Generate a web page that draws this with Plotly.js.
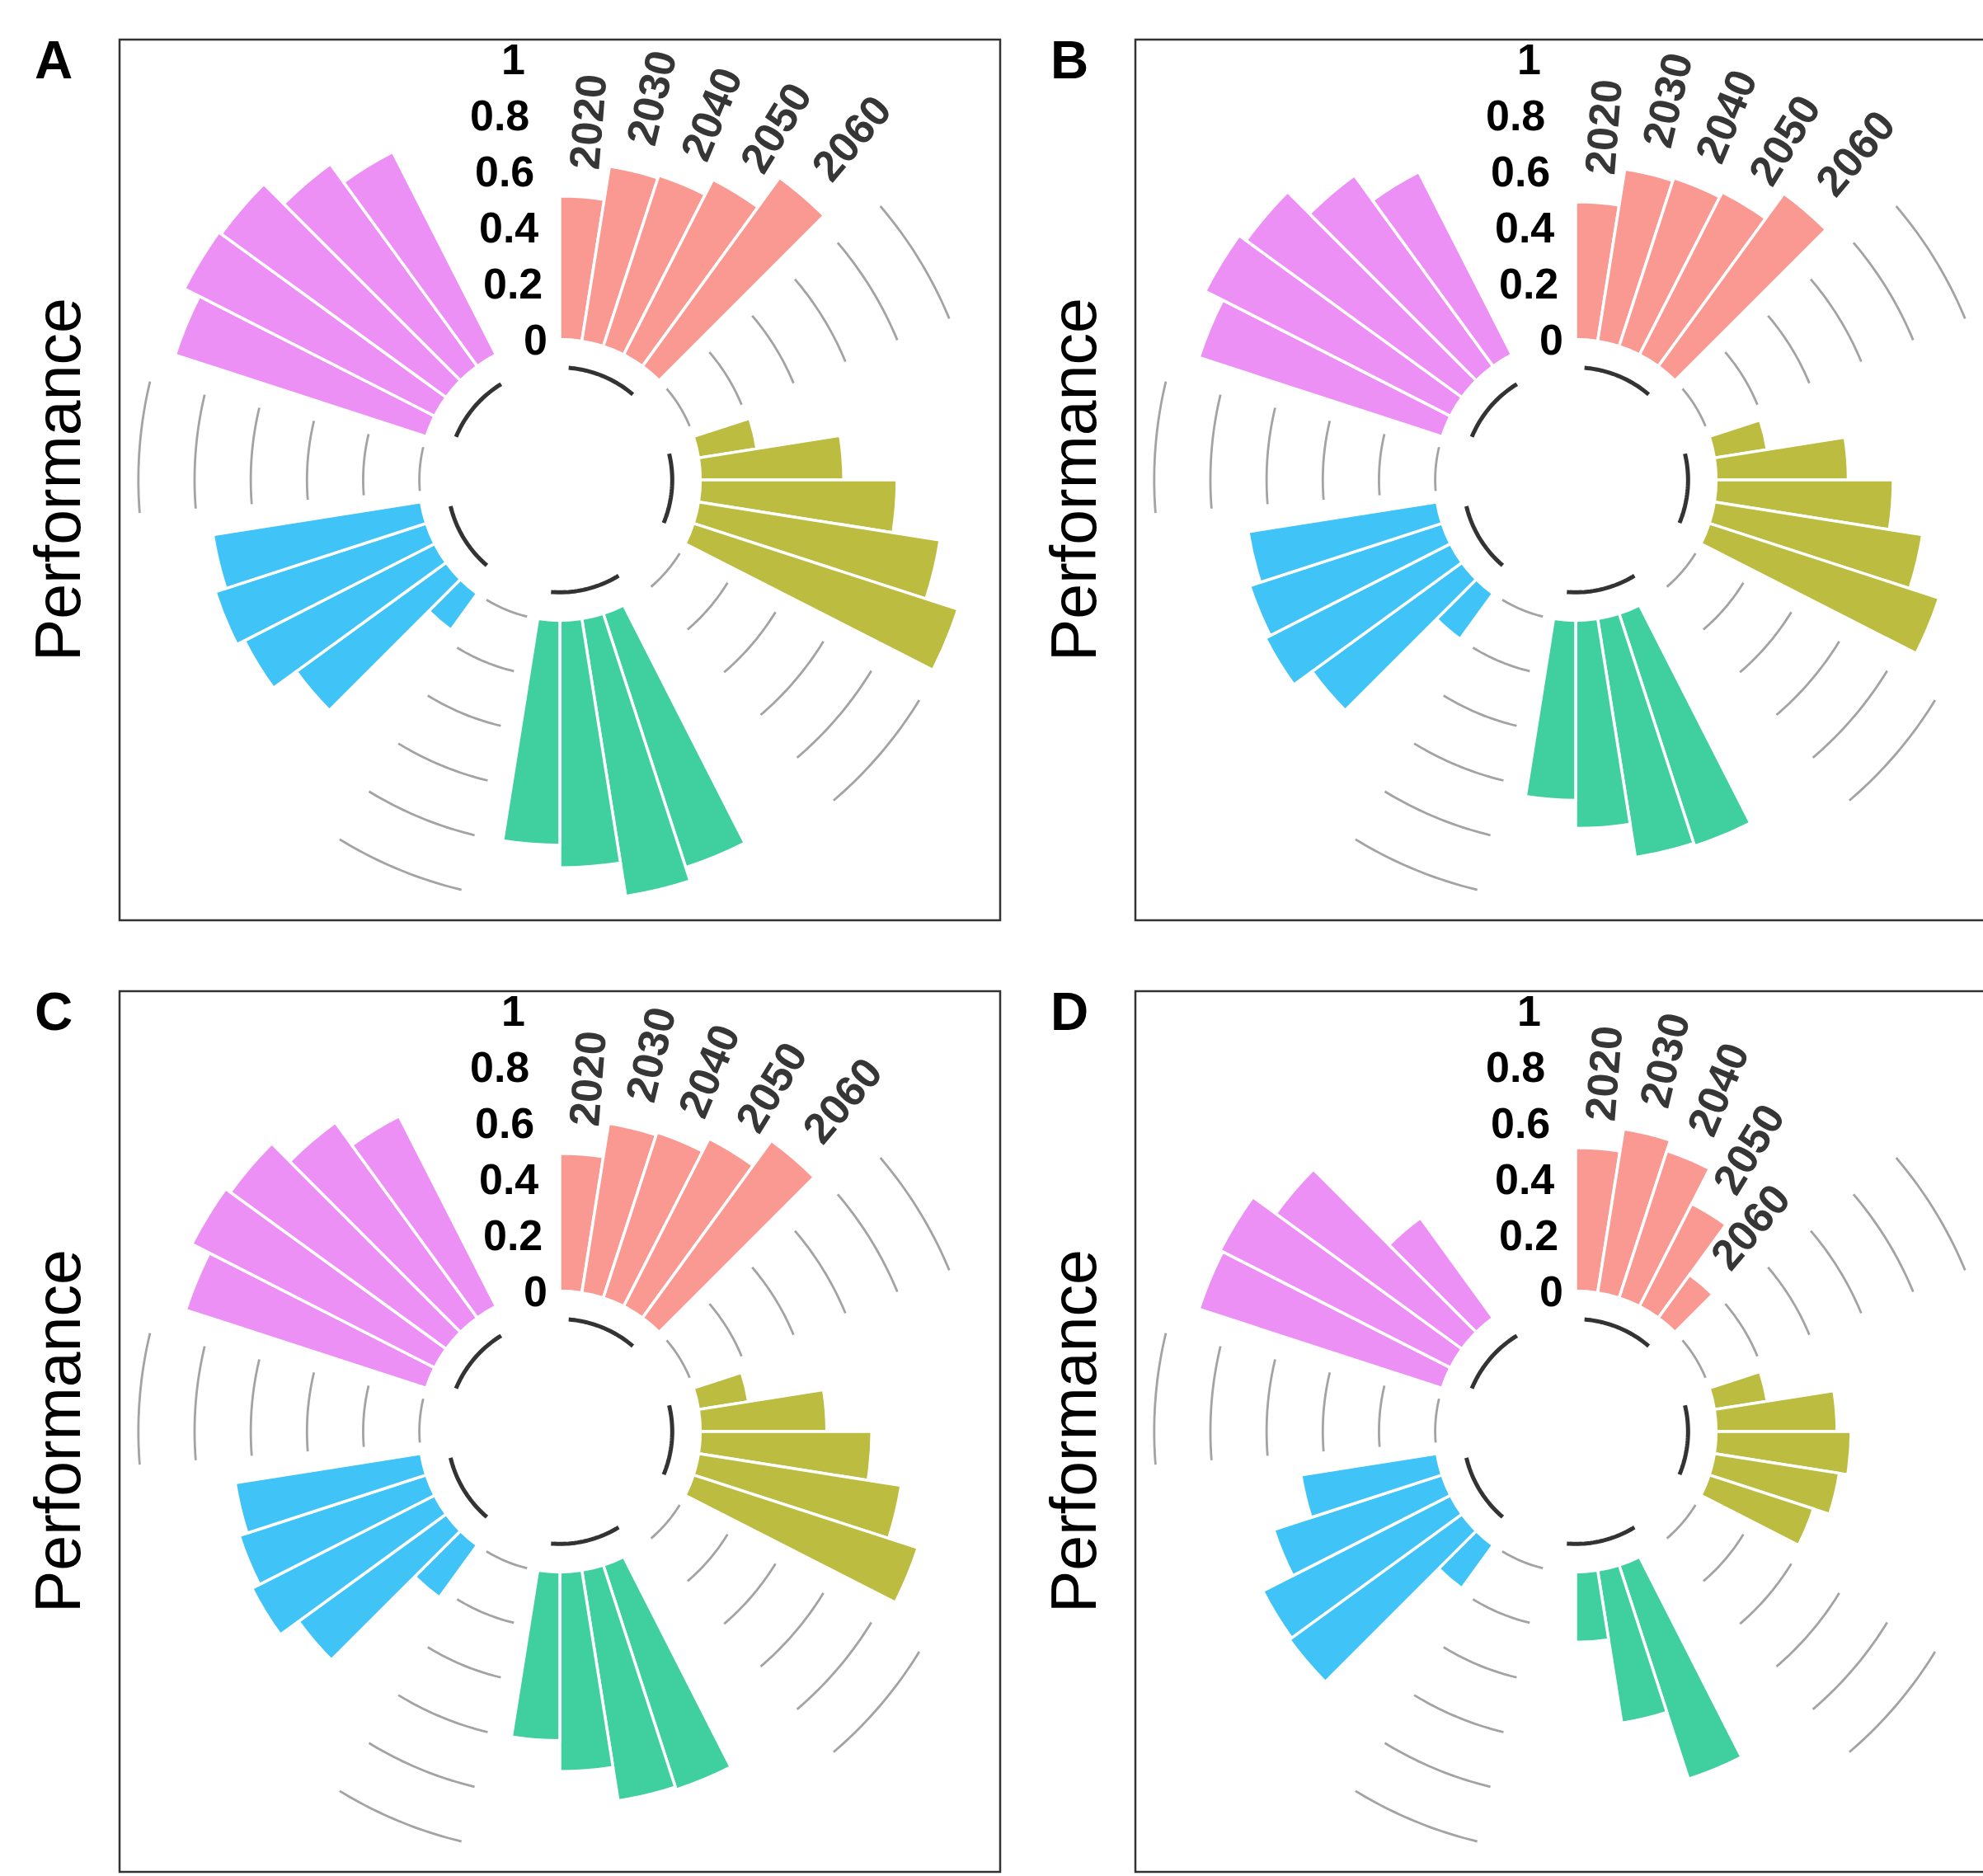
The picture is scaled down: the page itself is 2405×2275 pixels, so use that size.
<!DOCTYPE html>
<html>
<head>
<meta charset="utf-8">
<script src="https://cdn.plot.ly/plotly-3.0.1.min.js"></script>
<style>
html,body{margin:0;padding:0;overflow:hidden;background:#ffffff;}
#chart{width:2460px;height:2275px;}
</style>
</head>
<body>
<div id="chart"></div>
<script>
// ---------------- data ----------------
const years = ['2020', '2030', '2040', '2050', '2060'];
const groupColors = ['#FA9892', '#BBBC40', '#40CF9E', '#40C4F8', '#ED90F6'];
const tickValues = [0, 0.2, 0.4, 0.6, 0.8, 1];
const tickLabels = ['0', '0.2', '0.4', '0.6', '0.8', '1'];
const panelLetters = ['A', 'B', 'C', 'D'];

// Panel A
const redA    = [0.51, 0.63, 0.64, 0.70, 0.83];
const oliveA  = [0.21, 0.51, 0.70, 0.87, 0.99];
const greenA  = [null, 0.95, 1.00, 0.88, 0.80];
const blueA   = [0.16, 0.66, 0.76, 0.79, 0.75];
const violetA = [0.94, 1.00, 0.99, 0.89, 0.81];
// Panel B
const redB    = [0.49, 0.62, 0.63, 0.65, 0.76];
const oliveB  = [0.19, 0.47, 0.63, 0.75, 0.86];
const greenB  = [null, 0.87, 0.86, 0.74, 0.64];
const blueB   = [0.20, 0.66, 0.74, 0.72, 0.68];
const violetB = [0.91, 0.98, 0.95, 0.84, 0.73];
// Panel C
const redC    = [0.49, 0.61, 0.62, 0.67, 0.78];
const oliveC  = [0.18, 0.45, 0.61, 0.73, 0.84];
const greenC  = [null, 0.84, 0.83, 0.71, 0.60];
const blueC   = [0.23, 0.65, 0.73, 0.70, 0.67];
const violetC = [0.90, 0.97, 0.95, 0.86, 0.76];
// Panel D
const redD    = [0.51, 0.59, 0.55, 0.41, 0.19];
const oliveD  = [0.19, 0.43, 0.48, 0.45, 0.39];
const greenD  = [null, 0.80, 0.55, 0.25, null];
const blueD   = [0.19, 0.76, 0.75, 0.63, 0.49];
const violetD = [0.91, 0.92, 0.82, 0.44, null];

const panelValues = [
  [redA, oliveA, greenA, blueA, violetA],
  [redB, oliveB, greenB, blueB, violetB],
  [redC, oliveC, greenC, blueC, violetC],
  [redD, oliveD, greenD, blueD, violetD]
];

// ---------------- layout constants ----------------
const W = 2460, HT = 2275, HALF = 534;
const centers = [[679, 582], [1911, 582], [679, 1736], [1911, 1736]];
const R_MIN = -0.5, R_MAX = 1.067;
const SLOT = 9;            // 40 slots around the circle
const STRIDE = 8;          // 5 bars + 3 empty slots per group
const NSLOTS = 40;
const BASE_LINE = -0.1;
const LABEL_OFFSET = 0.1;
const FONT = 'Liberation Sans, Arial, Helvetica, sans-serif';
const LABEL_SIZE = 52;
const PX_PER_UNIT = HALF / (R_MAX - R_MIN);
const LABEL_HALF = (2.224 * LABEL_SIZE / 2) / PX_PER_UNIT;

function slotTheta(s) { return s * SLOT + SLOT / 2; }
function arcSample(a0, a1) {
  const out = []; const n = 24;
  for (let i = 0; i <= n; i++) out.push(a0 + (a1 - a0) * i / n);
  return out;
}
function toXY(v, th) {
  const rr = v - R_MIN, a = th * Math.PI / 180;
  return [rr * Math.sin(a), rr * Math.cos(a)];
}

const traces = [];
const layout = {
  width: W, height: HT,
  margin: {l: 0, r: 0, t: 0, b: 0},
  paper_bgcolor: '#ffffff', plot_bgcolor: 'rgba(0,0,0,0)',
  showlegend: false,
  annotations: [], shapes: []
};

panelValues.forEach((groups, k) => {
  const [cx, cy] = centers[k];
  const pk = k === 0 ? 'polar' : 'polar' + (k + 1);
  const xk = k === 0 ? 'x' : 'x' + (k + 1);
  const yk = k === 0 ? 'y' : 'y' + (k + 1);
  const xd = [(cx - HALF) / W, (cx + HALF) / W];
  const yd = [(HT - cy - HALF) / HT, (HT - cy + HALF) / HT];

  layout[pk] = {
    domain: {x: xd, y: yd},
    bgcolor: 'rgba(0,0,0,0)',
    radialaxis: {range: [R_MIN, R_MAX], visible: false, showgrid: false},
    angularaxis: {visible: false, showgrid: false, rotation: 90, direction: 'clockwise', thetaunit: 'degrees'}
  };
  layout[(k === 0 ? 'xaxis' : 'xaxis' + (k + 1))] = {domain: xd, range: [R_MIN - R_MAX, R_MAX - R_MIN], visible: false, fixedrange: true, anchor: yk};
  layout[(k === 0 ? 'yaxis' : 'yaxis' + (k + 1))] = {domain: yd, range: [R_MIN - R_MAX, R_MAX - R_MIN], visible: false, fixedrange: true, anchor: xk};
  traces.push({type: 'scatter', x: [0], y: [0], xaxis: xk, yaxis: yk, mode: 'markers', marker: {opacity: 0}, hoverinfo: 'skip'});

  // grey grid arcs in the gaps between groups
  const gr = [], gt = [];
  for (let g = 1; g < groups.length; g++) {
    const a0 = slotTheta(g * STRIDE - 3), a1 = slotTheta(g * STRIDE - 1);
    tickValues.forEach(v => {
      arcSample(a0, a1).forEach(t => { gr.push(v); gt.push(t); });
      gr.push(null); gt.push(null);
    });
  }
  traces.push({type: 'scatterpolar', subplot: pk, r: gr, theta: gt, mode: 'lines',
    line: {color: '#A3A3A3', width: 2.8}, hoverinfo: 'skip', connectgaps: false});

  // bars (only bars that have a value)
  groups.forEach((vals, g) => {
    const idx = vals.map((v, i) => i).filter(i => vals[i] !== null);
    traces.push({
      type: 'barpolar', subplot: pk,
      r: idx.map(i => vals[i]),
      theta: idx.map(i => slotTheta(g * STRIDE + i)),
      width: idx.map(() => SLOT),
      base: idx.map(() => 0),
      marker: {color: groupColors[g], line: {color: '#ffffff', width: 3.5}},
      hoverinfo: 'skip'
    });
  });

  // black base lines under each group
  const br = [], bt = [];
  groups.forEach((vals, g) => {
    arcSample(slotTheta(g * STRIDE), slotTheta(g * STRIDE + years.length - 1)).forEach(t => { br.push(BASE_LINE); bt.push(t); });
    br.push(null); bt.push(null);
  });
  traces.push({type: 'scatterpolar', subplot: pk, r: br, theta: bt, mode: 'lines',
    line: {color: '#333333', width: 5}, hoverinfo: 'skip', connectgaps: false});

  // value labels 0 .. 1 in the last empty slot
  tickValues.forEach((v, i) => {
    const [x, y] = toXY(v, slotTheta(NSLOTS - 1));
    layout.annotations.push({xref: xk, yref: yk, x: x, y: y, text: tickLabels[i], showarrow: false,
      xanchor: 'right', yanchor: 'middle', font: {family: FONT, size: LABEL_SIZE, color: '#000000', weight: 'bold'}});
  });
  // year labels on the first group
  groups[0].forEach((v, i) => {
    if (v === null) return;
    const th = slotTheta(i);
    const [x, y] = toXY(v + LABEL_OFFSET + LABEL_HALF, th);
    layout.annotations.push({xref: xk, yref: yk, x: x, y: y, text: years[i], showarrow: false,
      xanchor: 'center', yanchor: 'middle', textangle: th - 90,
      font: {family: FONT, size: LABEL_SIZE, color: '#363636', weight: 'bold'}});
  });

  // frame
  layout.shapes.push({type: 'rect', xref: 'paper', yref: 'paper',
    x0: xd[0], x1: xd[1], y0: yd[0], y1: yd[1], line: {color: '#333333', width: 2.5}, fillcolor: 'rgba(0,0,0,0)'});
  // panel letter
  layout.annotations.push({xref: 'paper', yref: 'paper', x: (cx - 614) / W, y: (HT - (cy - 509)) / HT,
    text: panelLetters[k], showarrow: false, xanchor: 'center', yanchor: 'middle',
    font: {family: FONT, size: 64, color: '#000000', weight: 'bold'}});
  // axis title
  layout.annotations.push({xref: 'paper', yref: 'paper', x: (cx - 609) / W, y: (HT - cy) / HT,
    text: 'Performance', showarrow: false, textangle: -90, xanchor: 'center', yanchor: 'middle',
    font: {family: FONT, size: 77, color: '#000000'}});
});

Plotly.newPlot('chart', traces, layout, {staticPlot: true, displayModeBar: false});
</script>
</body>
</html>
